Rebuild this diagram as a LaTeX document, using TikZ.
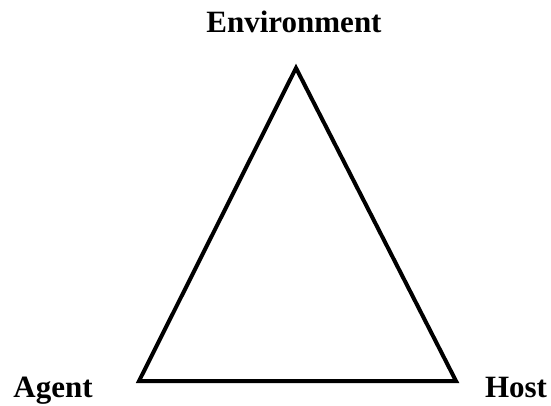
\documentclass[tikz,border=0pt]{standalone}
\usepackage{fontspec}
\setmainfont{Liberation Serif}
\begin{document}
\begin{tikzpicture}[x=1pt,y=-1pt,
  lbl/.style={anchor=base,inner sep=0pt,font=\fontsize{31}{36}\selectfont\bfseries},
  edge/.style={line width=4pt,line join=miter}]
\useasboundingbox (0,0) rectangle (551,406);
\coordinate (top) at (296,68);
\coordinate (bl) at (139,381);
\coordinate (br) at (456,381);
\draw[edge] (top) -- (bl) -- (br) -- cycle;
\node[lbl] (env) at (294,33) {Environment};
\node[lbl] (agent) at (53,397) {Agent};
\node[lbl] (host) at (516,397) {Host};
\end{tikzpicture}
\end{document}
